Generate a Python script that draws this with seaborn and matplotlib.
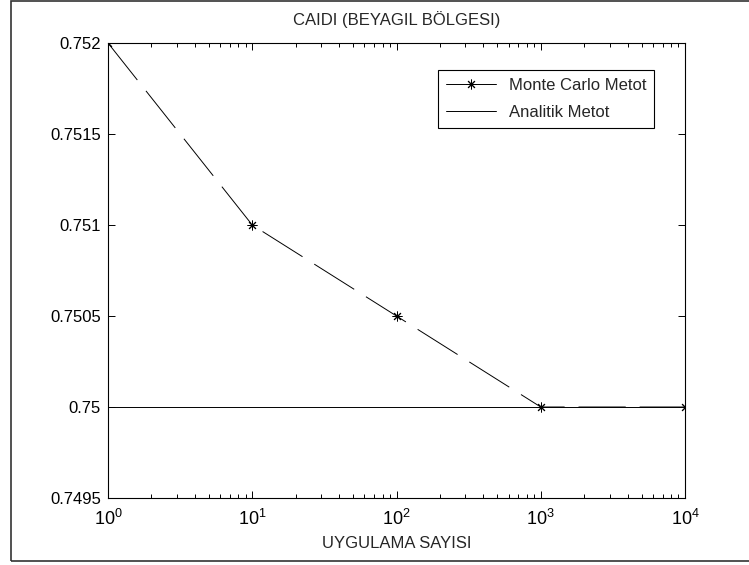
import numpy as np
import pandas as pd
import matplotlib
matplotlib.use('Agg')
import matplotlib.pyplot as plt
import matplotlib.ticker as ticker
from matplotlib.lines import Line2D
from matplotlib.patches import Rectangle
import seaborn as sns

# data
uygulama = [1, 10, 100, 1000, 10000]
monte_carlo = [0.752, 0.751, 0.7505, 0.75, 0.75]
analitik_x = [1, 10000]
analitik_y = [0.75, 0.75]
y_ticks = [0.7495, 0.75, 0.7505, 0.751, 0.7515, 0.752]

sns.set_style('ticks')
plt.rcParams['font.family'] = ['Liberation Sans', 'DejaVu Sans']
plt.rcParams['mathtext.fontset'] = 'custom'
plt.rcParams['mathtext.rm'] = 'Liberation Sans'
plt.rcParams['mathtext.it'] = 'Liberation Sans'
plt.rcParams['lines.scale_dashes'] = False

df_mc = pd.DataFrame({'n': uygulama, 'caidi': monte_carlo})
df_an = pd.DataFrame({'n': analitik_x, 'caidi': analitik_y})

fig = plt.figure(figsize=(7.49, 5.65), dpi=100)
ax = fig.add_axes([108 / 749, 67 / 565, 577 / 749, 455 / 565])

# outer frame (MATLAB figure border)
fig.patches.append(Rectangle((11 / 749, 4 / 565), 1.0, 560 / 565, transform=fig.transFigure,
                             fill=False, edgecolor='#333333', linewidth=1.2))

sns.lineplot(data=df_an, x='n', y='caidi', ax=ax, color='black', linewidth=0.7)
sns.lineplot(data=df_mc, x='n', y='caidi', ax=ax, color='black', linewidth=0.7,
             marker=(8, 2, 0), markersize=7, markeredgewidth=0.7, markeredgecolor='black')
ax.lines[-1].set_dashes([34, 10])

ax.set_xscale('log')
ax.set_xlim(1, 10000)
ax.set_ylim(0.7495, 0.752)
ax.set_yticks(y_ticks)
ax.yaxis.set_major_formatter(ticker.FuncFormatter(lambda v, _: f'{v:g}'))
ax.xaxis.set_major_formatter(ticker.FuncFormatter(
    lambda v, _: r'$\mathregular{10^{%d}}$' % round(np.log10(v))))
ax.xaxis.set_minor_locator(ticker.LogLocator(base=10, subs=np.arange(2, 10)))

ax.tick_params(which='both', direction='in', top=True, right=True, labelsize=12, colors='black')
ax.tick_params(which='major', length=5, width=0.7)
ax.tick_params(which='minor', length=3, width=0.7)
ax.tick_params(axis='x', which='major', pad=8, labelsize=13)
ax.tick_params(axis='y', which='major', pad=5)
for s in ax.spines.values():
    s.set_linewidth(0.8)
    s.set_color('black')

ax.set_title('CAIDI (BEYAGIL BÖLGESI)', fontsize=12, pad=13)
ax.set_xlabel('UYGULAMA SAYISI', fontsize=12, labelpad=5)
ax.set_ylabel('')

handles = [Line2D([], [], color='black', linewidth=0.7, marker=(8, 2, 0), markersize=7, markeredgewidth=0.7),
           Line2D([], [], color='black', linewidth=0.7)]
leg = ax.legend(handles, ['Monte Carlo Metot', 'Analitik Metot'], loc='upper right',
                bbox_to_anchor=((654 - 108) / 577, 1 - (70 - 43) / 455), borderaxespad=0,
                fontsize=12, frameon=True, fancybox=False, edgecolor='black', framealpha=1,
                borderpad=0.45, handlelength=3.0, handletextpad=0.8, labelspacing=0.75)
leg.get_frame().set_linewidth(0.8)

fig.savefig('out.png', dpi=100)
